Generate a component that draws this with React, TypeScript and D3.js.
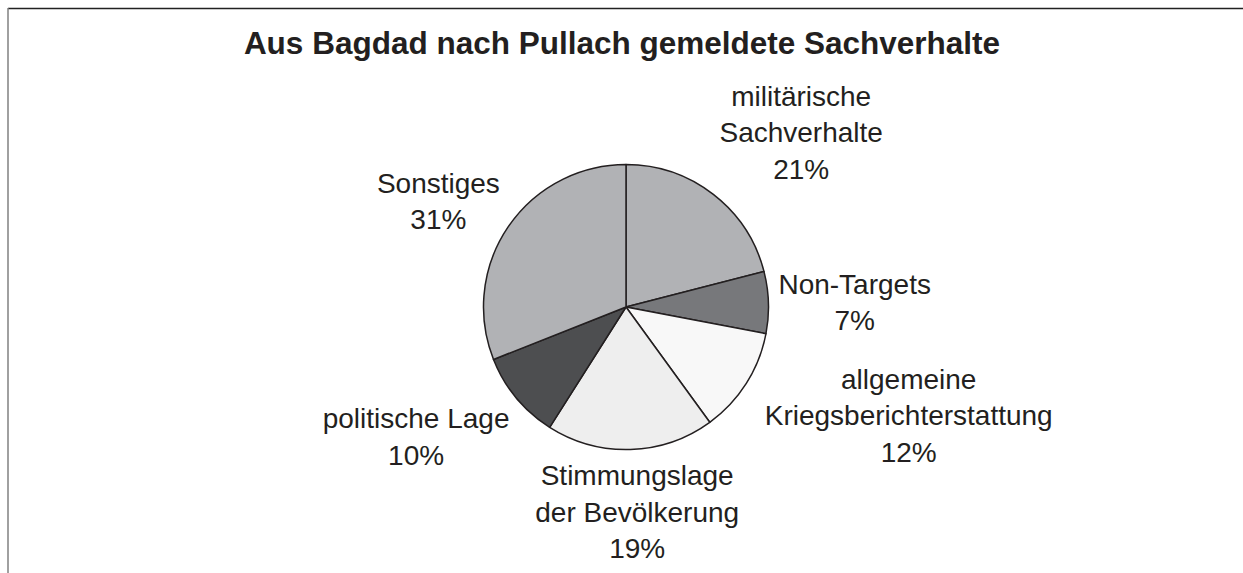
import React from 'react'
import * as d3 from 'd3'

const title = 'Aus Bagdad nach Pullach gemeldete Sachverhalte'
const categories = [
  ['militärische', 'Sachverhalte'],
  ['Non-Targets'],
  ['allgemeine', 'Kriegsberichterstattung'],
  ['Stimmungslage', 'der Bevölkerung'],
  ['politische Lage'],
  ['Sonstiges'],
]
const shares = [21, 7, 12, 19, 10, 31]
const fills = ['#b1b2b5', '#77787b', '#f8f8f8', '#eeeeee', '#4d4e50', '#b1b2b5']
// small hand tweaks to the label placement rule (px), like Excel's best-fit nudges
const labelNudge = [
  [0, -2],
  [0, 5],
  [10, -20],
  [0, 6],
  [1, 4],
  [0, 14],
]

const W = 1243
const H = 573
const cx = 626
const cy = 307
const radius = 142.5
const fontSize = 28
const lineH = 36.5
const ink = '#231f20'

const measure = (s: string) => {
  if (typeof document === 'undefined') return s.length * fontSize * 0.5
  const c = document.createElement('canvas').getContext('2d')!
  c.font = `${fontSize}px "Liberation Sans", Arial, sans-serif`
  return c.measureText(s).width
}

const App = () => {
  const pie = d3.pie<number>().sort(null).value((d) => d)
  const arcs = pie(shares)
  const arcGen = d3.arc<d3.PieArcDatum<number>>().innerRadius(0).outerRadius(radius)

  const labels = arcs.map((a, i) => {
    const lines = [...categories[i], `${shares[i]}%`]
    const mid = (a.startAngle + a.endAngle) / 2
    const dx = Math.sin(mid)
    const dy = -Math.cos(mid)
    const R = radius + 10
    const w = Math.max(...lines.map(measure))
    const h = 20 + (lines.length - 1) * lineH + 6
    const sx = Math.max(-1, Math.min(1, dx * 2))
    const sy = Math.max(-1, Math.min(1, dy * 2))
    const bx = cx + dx * R + (sx * w) / 2 + labelNudge[i][0]
    const by = cy + dy * R + (sy * h) / 2 + labelNudge[i][1]
    return { lines, x: bx, top: by - h / 2 }
  })

  return (
    <svg
      width={W}
      height={H}
      style={{ position: 'absolute', left: 0, top: 0, background: '#fff' }}
      fontFamily='"Liberation Sans", Arial, sans-serif'
    >
      <line x1={8} y1={8.5} x2={W} y2={8.5} stroke='#222' strokeWidth={1.5} />
      <line x1={8} y1={8} x2={8} y2={H} stroke='#808080' strokeWidth={1.5} />
      <text x={622} y={54} textAnchor='middle' fontSize={31.5} fontWeight='bold' fill={ink}>
        {title}
      </text>
      <g transform={`translate(${cx},${cy})`}>
        {arcs.map((a, i) => (
          <path key={i} d={arcGen(a) || ''} fill={fills[i]} stroke={ink} strokeWidth={1.5} strokeLinejoin='round' />
        ))}
      </g>
      {labels.map((l, i) => (
        <text key={i} textAnchor='middle' fontSize={fontSize} fill={ink}>
          {l.lines.map((t, j) => (
            <tspan key={j} x={l.x} y={l.top + 20 + j * lineH}>
              {t}
            </tspan>
          ))}
        </text>
      ))}
    </svg>
  )
}

export default App
